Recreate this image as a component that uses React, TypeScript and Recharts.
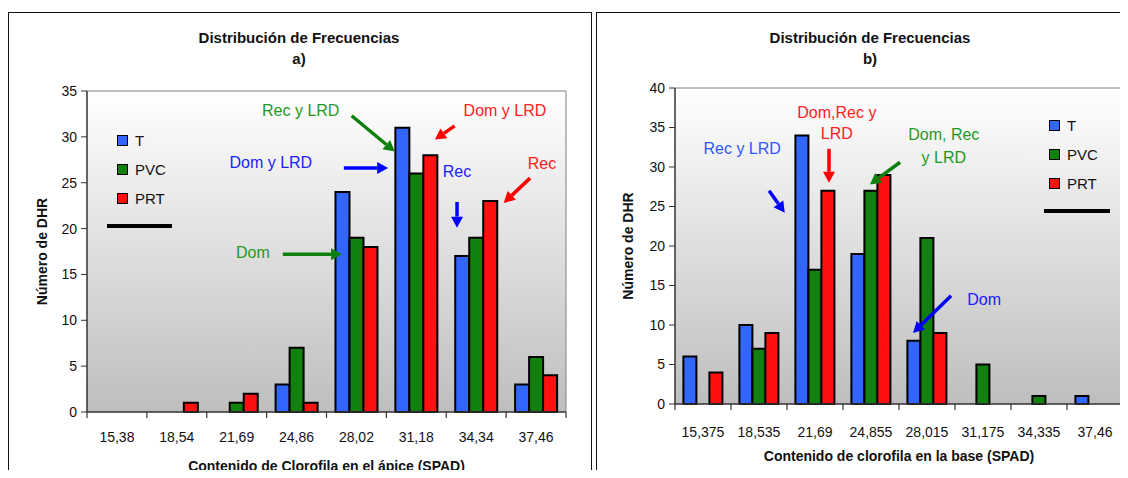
import React from 'react';
import {
  BarChart,
  Bar,
  XAxis,
  YAxis,
  CartesianGrid,
  Legend,
  ReferenceLine,
  ReferenceDot,
} from 'recharts';

// panel a: chlorophyll at the apex
const categoriesA = ['15,38', '18,54', '21,69', '24,86', '28,02', '31,18', '34,34', '37,46'];
const tA = [0, 0, 0, 3, 24, 31, 17, 3];
const pvcA = [0, 0, 1, 7, 19, 26, 19, 6];
const prtA = [0, 1, 2, 1, 18, 28, 23, 4];
const yTicksA = [0, 5, 10, 15, 20, 25, 30, 35];

// panel b: chlorophyll at the base
const categoriesB = ['15,375', '18,535', '21,69', '24,855', '28,015', '31,175', '34,335', '37,46'];
const tB = [6, 10, 34, 19, 8, 0, 0, 1];
const pvcB = [0, 7, 17, 27, 21, 5, 1, 0];
const prtB = [4, 9, 27, 29, 9, 0, 0, 0];
const yTicksB = [0, 5, 10, 15, 20, 25, 30, 35, 40];

// class boundaries (category slots) for the tick marks and the notes
const slotTicks = [0, 1, 2, 3, 4, 5, 6, 7, 8];

const seriesNames = ['T', 'PVC', 'PRT'];
const seriesColors = ['#3366FF', '#11800F', '#FF1010'];
const FONT = '"Liberation Sans", Arial, Helvetica, sans-serif';

type Note = { lines: string[]; x: number; y: number; color: string; step?: number };
type Arrow = { x1: number; y1: number; x2: number; y2: number; color: string };

// notes in slot / value units
const notesA: Note[] = [
  { lines: ['Rec y LRD'], x: 3.57, y: 32.9, color: '#1E9A1E' },
  { lines: ['Dom y LRD'], x: 3.07, y: 27.3, color: '#2020FF' },
  { lines: ['Dom y LRD'], x: 6.98, y: 32.9, color: '#FF2020' },
  { lines: ['Rec'], x: 6.18, y: 26.3, color: '#2020FF' },
  { lines: ['Rec'], x: 7.6, y: 27.2, color: '#FF2020' },
  { lines: ['Dom'], x: 2.77, y: 17.4, color: '#1E9A1E' },
];
const arrowsA: Arrow[] = [
  { x1: 4.42, y1: 32.3, x2: 5.14, y2: 28.4, color: '#0F7F0F' },
  { x1: 4.29, y1: 26.6, x2: 5.03, y2: 26.6, color: '#0000FF' },
  { x1: 6.14, y1: 31.2, x2: 5.81, y2: 29.7, color: '#FF0000' },
  { x1: 6.18, y1: 22.9, x2: 6.18, y2: 20.1, color: '#0000FF' },
  { x1: 7.4, y1: 25.5, x2: 6.96, y2: 22.8, color: '#FF0000' },
  { x1: 3.27, y1: 17.2, x2: 4.26, y2: 17.2, color: '#0F7F0F' },
];

const notesB: Note[] = [
  { lines: ['Rec y LRD'], x: 1.2, y: 32.4, color: '#3355FF' },
  { lines: ['Dom,Rec y', 'LRD'], x: 2.89, y: 37.0, color: '#FF2020', step: 21 },
  { lines: ['Dom, Rec', 'y LRD'], x: 4.8, y: 34.2, color: '#1E9A1E', step: 23 },
  { lines: ['Dom'], x: 5.52, y: 13.3, color: '#2020FF' },
];
const arrowsB: Arrow[] = [
  { x1: 1.68, y1: 27.0, x2: 1.96, y2: 24.2, color: '#0000FF' },
  { x1: 2.75, y1: 32.3, x2: 2.75, y2: 28.0, color: '#FF0000' },
  { x1: 4.02, y1: 30.6, x2: 3.48, y2: 27.8, color: '#0F7F0F' },
  { x1: 4.93, y1: 13.7, x2: 4.25, y2: 9.0, color: '#0000FF' },
];

// slot = class index, used only by the hidden annotation axis
const toRows = (cats: string[], t: number[], pvc: number[], prt: number[]) =>
  cats.map((c, i) => ({ name: c, slot: i, T: t[i], PVC: pvc[i], PRT: prt[i] }));

const arrowShape = (color: string) => (p: any) => {
  const { x1, y1, x2, y2 } = p;
  const ang = Math.atan2(y2 - y1, x2 - x1);
  const head = 11;
  const half = 6;
  const bx = x2 - head * Math.cos(ang);
  const by = y2 - head * Math.sin(ang);
  const nx = -Math.sin(ang);
  const ny = Math.cos(ang);
  return (
    <g>
      <line x1={x1} y1={y1} x2={bx} y2={by} stroke={color} strokeWidth={3.5} />
      <polygon
        points={`${x2},${y2} ${bx + nx * half},${by + ny * half} ${bx - nx * half},${by - ny * half}`}
        fill={color}
      />
    </g>
  );
};

const tickMarkShape = (p: any) => (
  <line x1={p.x1} y1={p.y1} x2={p.x2} y2={p.y2} stroke="#333" strokeWidth={1.2} />
);

const borderShape = (p: any) => (
  <line x1={p.x1} y1={p.y1} x2={p.x2} y2={p.y2} stroke="#808080" strokeWidth={1} />
);

const noteShape = (n: Note) => (p: any) => (
  <text
    x={p.cx}
    y={p.cy}
    fill={n.color}
    fontSize={16}
    fontFamily={FONT}
    textAnchor="middle"
    dominantBaseline="central"
  >
    {n.lines.map((l, i) => (
      <tspan key={i} x={p.cx} dy={i === 0 ? 0 : n.step || 21}>
        {l}
      </tspan>
    ))}
  </text>
);

const legendContent = (squareLeft: number, lineWidth: number) => () => (
  <div style={{ fontFamily: FONT, fontSize: 15, color: '#111' }}>
    {seriesNames.map((s, i) => (
      <div key={s} style={{ height: 29, display: 'flex', alignItems: 'center' }}>
        <span
          style={{
            display: 'inline-block',
            width: 9,
            height: 9,
            marginLeft: squareLeft,
            marginRight: 7,
            background: seriesColors[i],
            border: '1.5px solid #000',
          }}
        />
        <span>{s}</span>
      </div>
    ))}
    <div style={{ width: lineWidth, height: 4, background: '#000', marginTop: 11 }} />
  </div>
);

type PanelProps = {
  data: any[];
  yMax: number;
  yTicks: number[];
  tickLen: number;
  notes: Note[];
  arrows: Arrow[];
  width: number;
  margin: { top: number; right: number; bottom: number; left: number };
  xHeight: number;
  tickMargin: number;
  xTitle: string;
  xTitleOffset: number;
  letter: string;
  titleX: number;
  yTitleX: number;
  gradId: string;
  legendPos: { left: number; top: number };
  legendSquare: number;
  legendLine: number;
};

const Panel = (p: PanelProps) => {
  const plotMid = p.margin.top + (465 - p.margin.top - p.xHeight) / 2;
  return (
    <BarChart
      width={p.width}
      height={465}
      data={p.data}
      margin={p.margin}
      barCategoryGap="15%"
      barGap={0}
    >
      <defs>
        <linearGradient id={p.gradId} x1="0" y1="0" x2="0" y2="1">
          <stop offset="0%" stopColor="#FFFFFF" />
          <stop offset="100%" stopColor="#BEBEBE" />
        </linearGradient>
      </defs>
      <CartesianGrid horizontal={false} vertical={false} fill={`url(#${p.gradId})`} />
      <XAxis
        dataKey="name"
        height={p.xHeight}
        axisLine={{ stroke: '#333', strokeWidth: 1.5 }}
        tickLine={false}
        tickSize={6}
        tickMargin={p.tickMargin}
        tick={{ fill: '#111', fontSize: 14, fontFamily: FONT }}
        interval={0}
        label={{
          value: p.xTitle,
          position: 'insideBottom',
          offset: p.xTitleOffset,
          fill: '#111',
          fontSize: 14,
          fontWeight: 'bold',
          fontFamily: FONT,
        }}
      />
      <XAxis
        xAxisId="slot"
        dataKey="slot"
        type="number"
        scale="linear"
        domain={[0, 8]}
        allowDataOverflow
        ticks={slotTicks}
        hide
      />
      <YAxis
        width={40}
        domain={[0, p.yMax]}
        ticks={p.yTicks}
        interval={0}
        axisLine={{ stroke: '#333', strokeWidth: 1.5 }}
        tickLine={{ stroke: '#333' }}
        tickSize={6}
        tickMargin={4}
        tick={{ fill: '#111', fontSize: 14, fontFamily: FONT }}
      />
      {seriesNames.map((s, i) => (
        <Bar
          key={s}
          dataKey={s}
          name={s}
          fill={seriesColors[i]}
          stroke="#000"
          strokeWidth={2}
          isAnimationActive={false}
        />
      ))}
      <ReferenceLine
        xAxisId="slot"
        segment={[
          { x: 0, y: p.yMax },
          { x: 8, y: p.yMax },
        ]}
        ifOverflow="visible"
        shape={borderShape}
      />
      <ReferenceLine
        xAxisId="slot"
        segment={[
          { x: 8, y: 0 },
          { x: 8, y: p.yMax },
        ]}
        ifOverflow="visible"
        shape={borderShape}
      />
      {slotTicks.map((t) => (
        <ReferenceLine
          key={`t${t}`}
          xAxisId="slot"
          segment={[
            { x: t, y: 0 },
            { x: t, y: -p.tickLen },
          ]}
          ifOverflow="visible"
          shape={tickMarkShape}
        />
      ))}
      {p.arrows.map((a, i) => (
        <ReferenceLine
          key={`a${i}`}
          xAxisId="slot"
          segment={[
            { x: a.x1, y: a.y1 },
            { x: a.x2, y: a.y2 },
          ]}
          ifOverflow="visible"
          shape={arrowShape(a.color)}
        />
      ))}
      {p.notes.map((n, i) => (
        <ReferenceDot key={`n${i}`} xAxisId="slot" x={n.x} y={n.y} r={0} ifOverflow="visible" shape={noteShape(n)} />
      ))}
      <Legend
        layout="vertical"
        align="center"
        verticalAlign="middle"
        wrapperStyle={{ left: p.legendPos.left, top: p.legendPos.top, width: 120 }}
        content={legendContent(p.legendSquare, p.legendLine)}
      />
      <text x={p.titleX} y={30} textAnchor="middle" fontSize={15} fontWeight="bold" fontFamily={FONT} fill="#111">
        Distribución de Frecuencias
      </text>
      <text x={p.titleX} y={51} textAnchor="middle" fontSize={15} fontWeight="bold" fontFamily={FONT} fill="#111">
        {p.letter}
      </text>
      <text
        x={p.yTitleX}
        y={plotMid}
        transform={`rotate(-90 ${p.yTitleX} ${plotMid})`}
        textAnchor="middle"
        dominantBaseline="central"
        fontSize={14}
        fontWeight="bold"
        fontFamily={FONT}
        fill="#111"
      >
        Número de DHR
      </text>
    </BarChart>
  );
};

export default function App() {
  const dataA = toRows(categoriesA, tA, pvcA, prtA);
  const dataB = toRows(categoriesB, tB, pvcB, prtB);
  return (
    <div
      style={{
        position: 'relative',
        width: 1128,
        height: 478,
        margin: -8,
        overflow: 'hidden',
        background: '#fff',
      }}
    >
      <svg width={1128} height={12} style={{ position: 'absolute', left: 0, top: 0 }}>
        <text
          x={208}
          y={3}
          fontSize={20}
          fontFamily='"Liberation Serif", "Times New Roman", serif'
          textLength={736}
          lengthAdjust="spacing"
          fill="#000"
        >
          Contenido de clorofila en el ápice (a) y en la base (b) de la hoja.
        </text>
      </svg>
      <div
        style={{
          position: 'absolute',
          left: 8,
          top: 12,
          width: 584,
          height: 480,
          border: '1.5px solid #111',
          boxSizing: 'border-box',
        }}
      />
      <div
        style={{
          position: 'absolute',
          left: 596,
          top: 12,
          width: 560,
          height: 480,
          border: '1.5px solid #111',
          boxSizing: 'border-box',
        }}
      />
      <div style={{ position: 'absolute', left: 8, top: 13 }}>
        <Panel
          data={dataA}
          yMax={35}
          yTicks={yTicksA}
          tickLen={0.65}
          notes={notesA}
          arrows={arrowsA}
          width={583}
          margin={{ top: 78, right: 25, bottom: 0, left: 39 }}
          xHeight={66}
          tickMargin={14}
          xTitle="Contenido de Clorofila en el ápice (SPAD)"
          xTitleOffset={7}
          letter="a)"
          titleX={291}
          yTitleX={34}
          gradId="gradA"
          legendPos={{ left: 99, top: 113 }}
          legendSquare={10}
          legendLine={65}
        />
      </div>
      <div style={{ position: 'absolute', left: 597, top: 13 }}>
        <Panel
          data={dataB}
          yMax={40}
          yTicks={yTicksB}
          tickLen={0.76}
          notes={notesB}
          arrows={arrowsB}
          width={531}
          margin={{ top: 75, right: 5, bottom: 0, left: 38 }}
          xHeight={74}
          tickMargin={17}
          xTitle="Contenido de clorofila en la base (SPAD)"
          xTitleOffset={17}
          letter="b)"
          titleX={273}
          yTitleX={31}
          gradId="gradB"
          legendPos={{ left: 447, top: 98 }}
          legendSquare={5}
          legendLine={66}
        />
      </div>
    </div>
  );
}
